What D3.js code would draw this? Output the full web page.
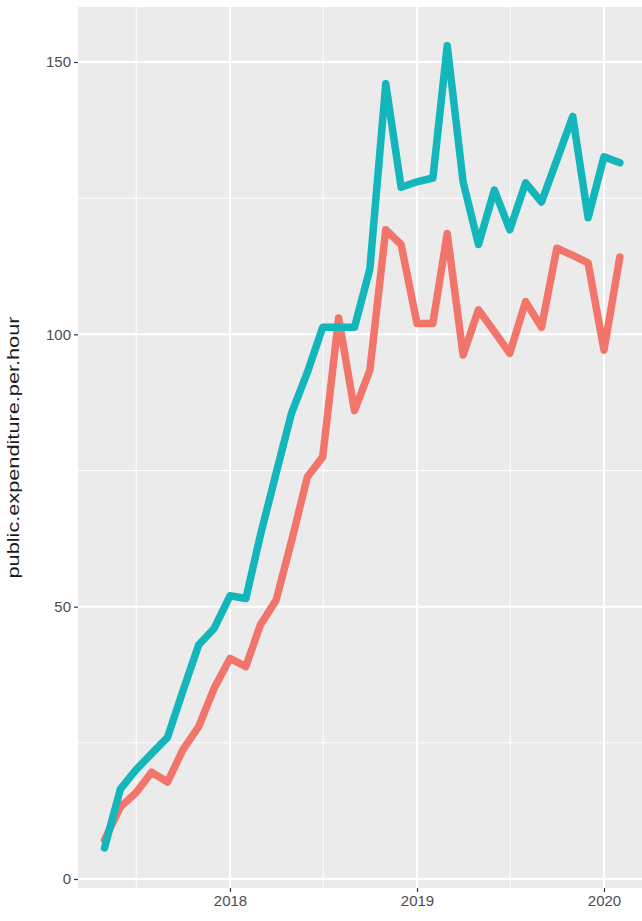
<!DOCTYPE html>
<html>
<head>
<meta charset="utf-8">
<script src="https://cdn.jsdelivr.net/npm/d3@7"></script>
<style>
  html, body { margin: 0; padding: 0; background: #ffffff; }
  svg { display: block; }
</style>
</head>
<body>
<svg id="chart" width="642" height="921"></svg>
<script>
// ---- data ----
const months = [
  "2017-05","2017-06","2017-07","2017-08","2017-09","2017-10","2017-11","2017-12",
  "2018-01","2018-02","2018-03","2018-04","2018-05","2018-06","2018-07","2018-08",
  "2018-09","2018-10","2018-11","2018-12","2019-01","2019-02","2019-03","2019-04",
  "2019-05","2019-06","2019-07","2019-08","2019-09","2019-10","2019-11","2019-12",
  "2020-01","2020-02"
];
const seriesRed = [
  7.2, 13.2, 15.8, 19.6, 17.8, 23.7, 28, 35,
  40.5, 39, 46.6, 51.2, 62, 73.8, 77.5, 103,
  86, 93.4, 119.2, 116.5, 102, 102, 118.5, 96.2,
  104.5, 100.5, 96.5, 106, 101.3, 115.8, 114.5, 113.1,
  97.1, 114.2
];
const seriesTeal = [
  5.7, 16.5, 20, 23, 26, 34.5, 43, 46,
  52, 51.5, 63, 74.5, 85.5, 93, 101.3, 101.3,
  101.3, 112, 146, 127, 128, 128.7, 153, 128,
  116.5, 126.5, 119.2, 127.8, 124.3, 132, 140, 121.4,
  132.6, 131.5
];
const yTicks = [0, 50, 100, 150];
const yMinor = [25, 75, 125];
const xTickYears = [2018, 2019, 2020];
const xMinorDates = ["2017-07-02", "2018-07-02", "2019-07-02"];
const yTitle = "public.expenditure.per.hour";

// ---- layout ----
const svg = d3.select("#chart");
const panel = { left: 78, top: 7, right: 660, bottom: 888 };

const parseMonth = d3.timeParse("%Y-%m");
const parseDay = d3.timeParse("%Y-%m-%d");
const dates = months.map(parseMonth);

// x: 2018-01-01 -> 230, 2020-01-01 -> 604
const x0 = d3.scaleTime()
  .domain([new Date(2018, 0, 1), new Date(2020, 0, 1)])
  .range([230, 604]);
const x = d3.scaleTime()
  .domain([x0.invert(panel.left), x0.invert(panel.right)])
  .range([panel.left, panel.right]);

// y: 0 -> 879, 150 -> 62
const y0 = d3.scaleLinear().domain([0, 150]).range([879, 62]);
const y = d3.scaleLinear()
  .domain([y0.invert(panel.bottom), y0.invert(panel.top)])
  .range([panel.bottom, panel.top]);

// panel background
svg.append("rect")
  .attr("x", panel.left).attr("y", panel.top)
  .attr("width", panel.right - panel.left)
  .attr("height", panel.bottom - panel.top)
  .attr("fill", "#EBEBEB");

const grid = svg.append("g");
// minor grid
grid.selectAll(".ym").data(yMinor).join("line")
  .attr("x1", panel.left).attr("x2", panel.right)
  .attr("y1", d => y(d)).attr("y2", d => y(d))
  .attr("stroke", "#ffffff").attr("stroke-width", 1);
grid.selectAll(".xm").data(xMinorDates.map(parseDay)).join("line")
  .attr("x1", d => x(d)).attr("x2", d => x(d))
  .attr("y1", panel.top).attr("y2", panel.bottom)
  .attr("stroke", "#ffffff").attr("stroke-width", 1);
// major grid
grid.selectAll(".yM").data(yTicks).join("line")
  .attr("x1", panel.left).attr("x2", panel.right)
  .attr("y1", d => y(d)).attr("y2", d => y(d))
  .attr("stroke", "#ffffff").attr("stroke-width", 2);
grid.selectAll(".xM").data(xTickYears.map(v => new Date(v, 0, 1))).join("line")
  .attr("x1", d => x(d)).attr("x2", d => x(d))
  .attr("y1", panel.top).attr("y2", panel.bottom)
  .attr("stroke", "#ffffff").attr("stroke-width", 2);

// lines
const line = d3.line()
  .x((d, i) => x(dates[i]))
  .y(d => y(d));

const lines = [
  { values: seriesRed, color: "#F2756B" },
  { values: seriesTeal, color: "#13B6BA" }
];
lines.forEach(s => {
  svg.append("path")
    .datum(s.values)
    .attr("d", line)
    .attr("fill", "none")
    .attr("stroke", s.color)
    .attr("stroke-width", 7.5)
    .attr("stroke-linejoin", "round")
    .attr("stroke-linecap", "round");
});

// axes
const yAxis = d3.axisLeft(y).tickValues(yTicks).tickSize(4).tickPadding(3);
const gy = svg.append("g").attr("transform", `translate(${panel.left},0)`).call(yAxis);
gy.select(".domain").remove();
gy.selectAll(".tick line").attr("stroke", "#333333").attr("stroke-width", 1.2);
gy.selectAll(".tick text")
  .attr("fill", "#4D4D4D")
  .style("font-family", "'Liberation Sans', Arial, sans-serif")
  .style("font-size", "15px");

const xAxis = d3.axisBottom(x)
  .tickValues(xTickYears.map(v => new Date(v, 0, 1)))
  .tickFormat(d3.timeFormat("%Y"))
  .tickSize(4).tickPadding(3);
const gx = svg.append("g").attr("transform", `translate(0,${panel.bottom})`).call(xAxis);
gx.select(".domain").remove();
gx.selectAll(".tick line").attr("stroke", "#333333").attr("stroke-width", 1.2);
gx.selectAll(".tick text")
  .attr("fill", "#4D4D4D")
  .style("font-family", "'Liberation Sans', Arial, sans-serif")
  .style("font-size", "15px");

// y title
svg.append("text")
  .attr("transform", `translate(19,${(panel.top + panel.bottom) / 2}) rotate(-90)`)
  .attr("text-anchor", "middle")
  .attr("fill", "#1a1a1a")
  .attr("textLength", 262)
  .attr("lengthAdjust", "spacingAndGlyphs")
  .style("font-family", "'Liberation Sans', Arial, sans-serif")
  .style("font-size", "16px")
  .text(yTitle);
</script>
</body>
</html>
